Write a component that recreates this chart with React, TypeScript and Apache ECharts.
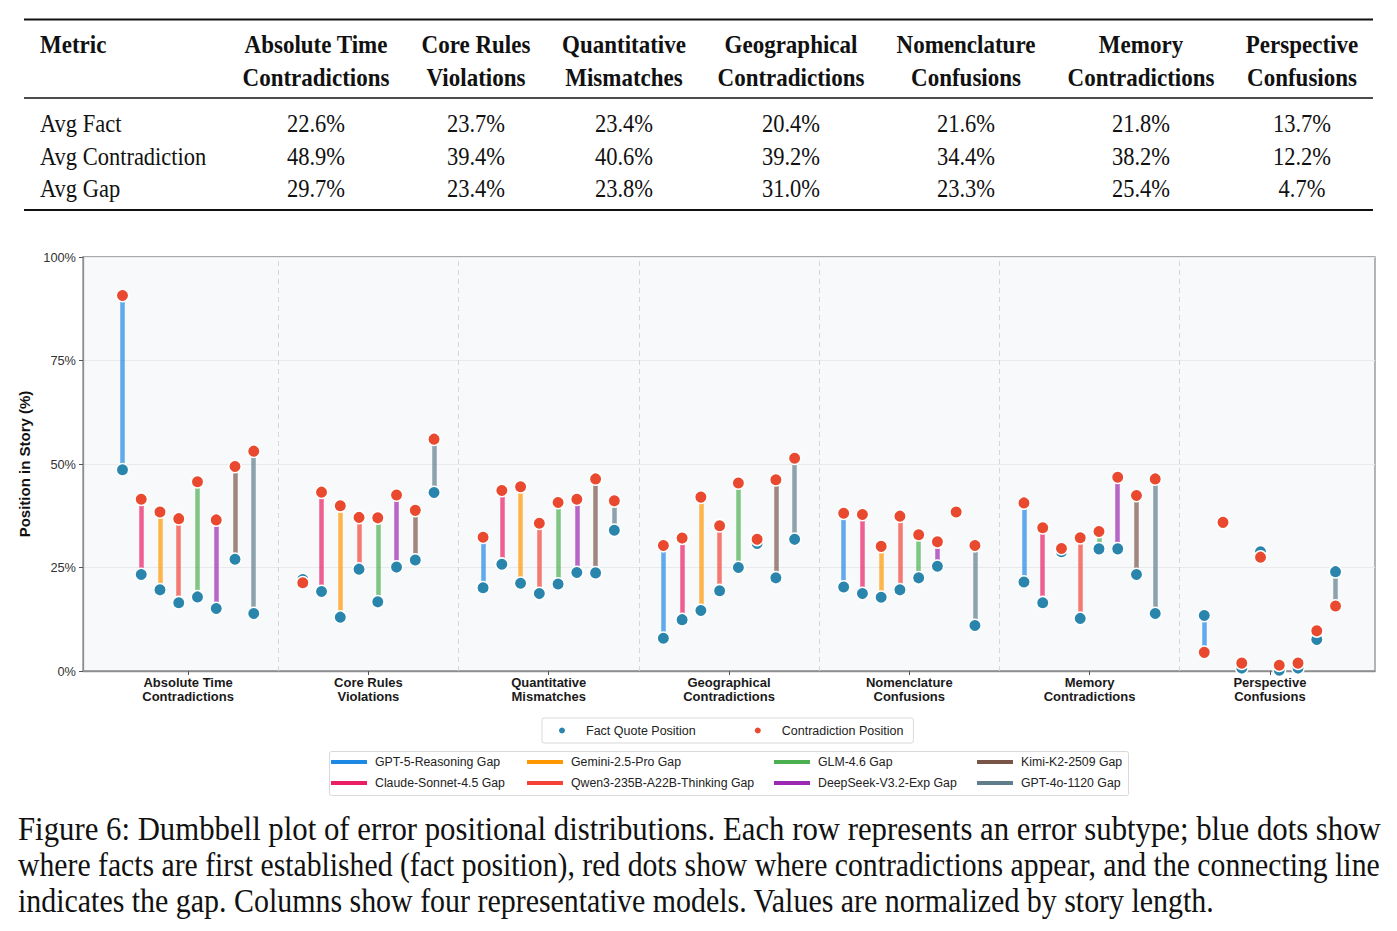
import React, { useEffect, useRef } from "react";
import * as echarts from "echarts";

// ---------- Data ----------
const categoryNames = [
  "Absolute Time\nContradictions",
  "Core Rules\nViolations",
  "Quantitative\nMismatches",
  "Geographical\nContradictions",
  "Nomenclature\nConfusions",
  "Memory\nContradictions",
  "Perspective\nConfusions",
];

const modelNames = [
  "GPT-5-Reasoning",
  "Claude-Sonnet-4.5",
  "Gemini-2.5-Pro",
  "Qwen3-235B-A22B-Thinking",
  "GLM-4.6",
  "DeepSeek-V3.2-Exp",
  "Kimi-K2-2509",
  "GPT-4o-1120",
];
const modelColors = [
  "#1E88E5",
  "#E91E63",
  "#FF9800",
  "#F44336",
  "#4CAF50",
  "#9C27B0",
  "#795548",
  "#607D8B",
];

// Positions in story (%), one value per model (modelNames order)
const absoluteTimeFact = [48.6, 23.3, 19.6, 16.5, 17.9, 15.1, 27.0, 13.9];
const absoluteTimeContra = [90.7, 41.5, 38.4, 36.8, 45.7, 36.5, 49.4, 53.1];
const coreRulesFact = [22.1, 19.2, 13.0, 24.6, 16.7, 25.1, 26.8, 43.1];
const coreRulesContra = [21.3, 43.2, 39.9, 37.1, 37.0, 42.5, 38.8, 56.0];
const quantitativeFact = [20.1, 25.8, 21.2, 18.7, 21.0, 23.8, 23.7, 34.0];
const quantitativeContra = [32.3, 43.6, 44.5, 35.7, 40.7, 41.5, 46.4, 41.1];
const geographicalFact = [7.9, 12.4, 14.6, 19.4, 25.0, 30.8, 22.5, 31.8];
const geographicalContra = [30.3, 32.1, 42.0, 35.1, 45.4, 31.8, 46.2, 51.4];
const nomenclatureFact = [20.3, 18.7, 17.8, 19.6, 22.5, 25.3, 38.4, 11.0];
const nomenclatureContra = [38.1, 37.8, 30.1, 37.4, 32.9, 31.2, 38.4, 30.3];
const memoryFact = [21.5, 16.5, 28.8, 12.7, 29.5, 29.5, 23.3, 13.9];
const memoryContra = [40.6, 34.6, 29.6, 32.2, 33.7, 46.8, 42.4, 46.4];
const perspectiveFact = [13.4, 35.9, 0.7, 28.8, 0.2, 0.7, 7.6, 24.0];
const perspectiveContra = [4.5, 35.9, 1.9, 27.5, 1.4, 1.9, 9.7, 15.7];

const factByCategory = [
  absoluteTimeFact,
  coreRulesFact,
  quantitativeFact,
  geographicalFact,
  nomenclatureFact,
  memoryFact,
  perspectiveFact,
];
const contraByCategory = [
  absoluteTimeContra,
  coreRulesContra,
  quantitativeContra,
  geographicalContra,
  nomenclatureContra,
  memoryContra,
  perspectiveContra,
];

const yTicks = [0, 25, 50, 75, 100];

// Summary table
const tableHeaderMetric = "Metric";
const tableHeaders = categoryNames;
const avgFact = ["22.6%", "23.7%", "23.4%", "20.4%", "21.6%", "21.8%", "13.7%"];
const avgContradiction = ["48.9%", "39.4%", "40.6%", "39.2%", "34.4%", "38.2%", "12.2%"];
const avgGap = ["29.7%", "23.4%", "23.8%", "31.0%", "23.3%", "25.4%", "4.7%"];
const rowLabels = ["Avg Fact", "Avg Contradiction", "Avg Gap"];

const captionLines = [
  "Figure 6: Dumbbell plot of error positional distributions. Each row represents an error subtype; blue dots show",
  "where facts are first established (fact position), red dots show where contradictions appear, and the connecting line",
  "indicates the gap. Columns show four representative models. Values are normalized by story length.",
];

// ---------- Layout / style ----------
const SANS = "'Liberation Sans', Arial, Helvetica, sans-serif";
const SERIF = "'Liberation Serif', 'Times New Roman', Times, serif";
const FACT_COLOR = "#2A85AD";
const CONTRA_COLOR = "#E8492F";
const OFFSET_STEP = 0.104;
const xOf = (cat: number, model: number) => cat + (model - 3.5) * OFFSET_STEP;

function measureText(text: string, font: string): number {
  const ctx = document.createElement("canvas").getContext("2d");
  if (!ctx) return text.length * 10;
  ctx.font = font;
  return ctx.measureText(text).width;
}

function buildTableGraphics(): any[] {
  const els: any[] = [];
  const colX = [316, 476, 624, 791, 966, 1141, 1302];
  const sy = 1.14;
  const rule = (y: number, w: number) => ({
    type: "line",
    shape: { x1: 24, y1: y, x2: 1373, y2: y },
    style: { stroke: "#111", lineWidth: w },
  });
  els.push(rule(19.5, 2.2), rule(98, 1.3), rule(210, 2.2));
  const txt = (text: string, x: number, y: number, align: string, bold: boolean) => ({
    type: "text",
    x,
    y,
    scaleY: sy,
    style: {
      text,
      align,
      verticalAlign: "middle",
      font: `${bold ? "bold 23px" : "22.5px"} ${SERIF}`,
      fill: "#111",
      lineHeight: 33 / sy,
    },
  });
  els.push(txt(tableHeaderMetric, 40, 44, "left", true));
  tableHeaders.forEach((h, i) => els.push(txt(h, colX[i], 60.5, "center", true)));
  const rows = [avgFact, avgContradiction, avgGap];
  const rowY = [123, 156, 188];
  rows.forEach((vals, r) => {
    els.push(txt(rowLabels[r], 40, rowY[r], "left", false));
    vals.forEach((v, i) => els.push(txt(v, colX[i], rowY[r], "center", false)));
  });
  return els;
}

function buildCaptionGraphics(): any[] {
  const base = 27;
  const natural3 = measureText(captionLines[2], `${base}px ${SERIF}`);
  const fs = natural3 > 0 ? (base * 1197) / natural3 : base;
  const font = `${fs}px ${SERIF}`;
  const ys = [828, 864, 900];
  return captionLines.map((line, i) => {
    let sx = 1;
    if (i < 2) {
      const w = measureText(line, font);
      if (w > 0) sx = 1362 / w;
    }
    return {
      type: "text",
      x: 18,
      y: ys[i],
      scaleX: sx,
      scaleY: 1.14,
      style: { text: line, font, fill: "#111", align: "left", verticalAlign: "middle" },
    };
  });
}

function buildOption(): any {
  const gapSeries = modelNames.map((m, j) => ({
    type: "lines",
    name: `${m} Gap`,
    coordinateSystem: "cartesian2d",
    z: 2,
    silent: true,
    lineStyle: { color: modelColors[j], width: 4.5, opacity: 0.7, cap: "butt" },
    data: categoryNames.map((_, i) => ({
      coords: [
        [xOf(i, j), factByCategory[i][j]],
        [xOf(i, j), contraByCategory[i][j]],
      ],
    })),
  }));

  const factData: number[][] = [];
  const contraData: number[][] = [];
  categoryNames.forEach((_, i) => {
    modelNames.forEach((__, j) => {
      factData.push([xOf(i, j), factByCategory[i][j]]);
      contraData.push([xOf(i, j), contraByCategory[i][j]]);
    });
  });

  const catIdx = categoryNames.map((_, i) => i);
  const separators = categoryNames.slice(1).map((_, i) => ({ xAxis: i + 0.5 }));

  const gapLegends = [
    [0, 1],
    [2, 3],
    [4, 5],
    [6, 7],
  ].map((pair, c) => ({
    orient: "vertical",
    left: [331, 527, 774, 977][c],
    top: 756,
    padding: 0,
    itemWidth: 36,
    itemHeight: 4,
    itemGap: 9,
    selectedMode: false,
    textStyle: { fontSize: 12.3, color: "#222", fontFamily: SANS, padding: [0, 0, 0, 3] },
    data: pair.map((j) => ({
      name: `${modelNames[j]} Gap`,
      icon: "rect",
      itemStyle: { color: modelColors[j], opacity: 1, borderWidth: 0 },
    })),
  }));

  return {
    animation: false,
    backgroundColor: "#ffffff",
    textStyle: { fontFamily: SANS },
    grid: {
      left: 83,
      top: 257,
      width: 1292,
      height: 414,
      show: true,
      backgroundColor: "#F8F9FA",
      borderColor: "#8e8e8e",
      borderWidth: 1.3,
    },
    xAxis: {
      type: "value",
      min: -0.583,
      max: 6.583,
      splitLine: { show: false },
      axisLine: { show: true, onZero: false, lineStyle: { color: "#8e8e8e", width: 1.3 } },
      axisTick: { show: true, customValues: catIdx, length: 4, lineStyle: { color: "#555" } },
      axisLabel: {
        customValues: catIdx,
        formatter: (v: number) => categoryNames[Math.round(v)] ?? "",
        fontSize: 13,
        fontWeight: "bold",
        color: "#1a1a1a",
        lineHeight: 14,
        margin: 4,
        fontFamily: SANS,
      },
    },
    yAxis: {
      type: "value",
      min: 0,
      max: 100,
      interval: 25,
      axisLine: { show: true, onZero: false, lineStyle: { color: "#8e8e8e", width: 1.3 } },
      axisTick: { show: true, customValues: yTicks, length: 4, lineStyle: { color: "#555" } },
      axisLabel: {
        customValues: yTicks,
        formatter: "{value}%",
        fontSize: 12.8,
        color: "#333",
        margin: 7,
        fontFamily: SANS,
      },
      splitLine: { show: true, lineStyle: { color: "#e9eaec", width: 1 } },
      name: "Position in Story (%)",
      nameLocation: "middle",
      nameGap: 46,
      nameTextStyle: { fontWeight: "bold", fontSize: 15, color: "#111", fontFamily: SANS },
    },
    legend: [
      {
        data: [
          { name: "Fact Quote Position", icon: "circle" },
          { name: "Contradiction Position", icon: "circle" },
        ],
        left: 542,
        top: 718,
        orient: "horizontal",
        itemWidth: 8,
        itemHeight: 8,
        itemGap: 57,
        padding: [6, 10, 6, 15],
        backgroundColor: "#ffffff",
        borderColor: "#d9d9d9",
        borderWidth: 1,
        borderRadius: 2,
        selectedMode: false,
        textStyle: { fontSize: 12.5, color: "#222", fontFamily: SANS, padding: [0, 0, 0, 15] },
      },
      ...gapLegends,
    ],
    graphic: {
      elements: [
        {
          type: "rect",
          z: 0,
          shape: { x: 329.5, y: 751.5, width: 799, height: 44, r: 2 },
          style: { fill: "#ffffff", stroke: "#d9d9d9", lineWidth: 1 },
        },
        ...buildTableGraphics(),
        ...buildCaptionGraphics(),
      ],
    },
    series: [
      ...gapSeries,
      {
        type: "scatter",
        name: "Fact Quote Position",
        z: 3,
        symbol: "circle",
        symbolSize: 12.5,
        itemStyle: { color: FACT_COLOR, borderColor: "#ffffff", borderWidth: 1.5, opacity: 1 },
        data: factData,
        markLine: {
          silent: true,
          symbol: ["none", "none"],
          label: { show: false },
          lineStyle: { color: "#d6d6d6", width: 1, type: [5, 4] },
          data: separators,
        },
      },
      {
        type: "scatter",
        name: "Contradiction Position",
        z: 4,
        symbol: "circle",
        symbolSize: 12.5,
        itemStyle: { color: CONTRA_COLOR, borderColor: "#ffffff", borderWidth: 1.5, opacity: 1 },
        data: contraData,
      },
    ],
  };
}

export default function App() {
  const ref = useRef<HTMLDivElement | null>(null);
  useEffect(() => {
    if (!ref.current) return;
    const chart = echarts.init(ref.current, undefined, { renderer: "svg" });
    chart.setOption(buildOption());
    return () => chart.dispose();
  }, []);
  return (
    <div
      ref={ref}
      style={{ position: "absolute", left: 0, top: 0, width: 1397, height: 931, background: "#fff" }}
    />
  );
}
